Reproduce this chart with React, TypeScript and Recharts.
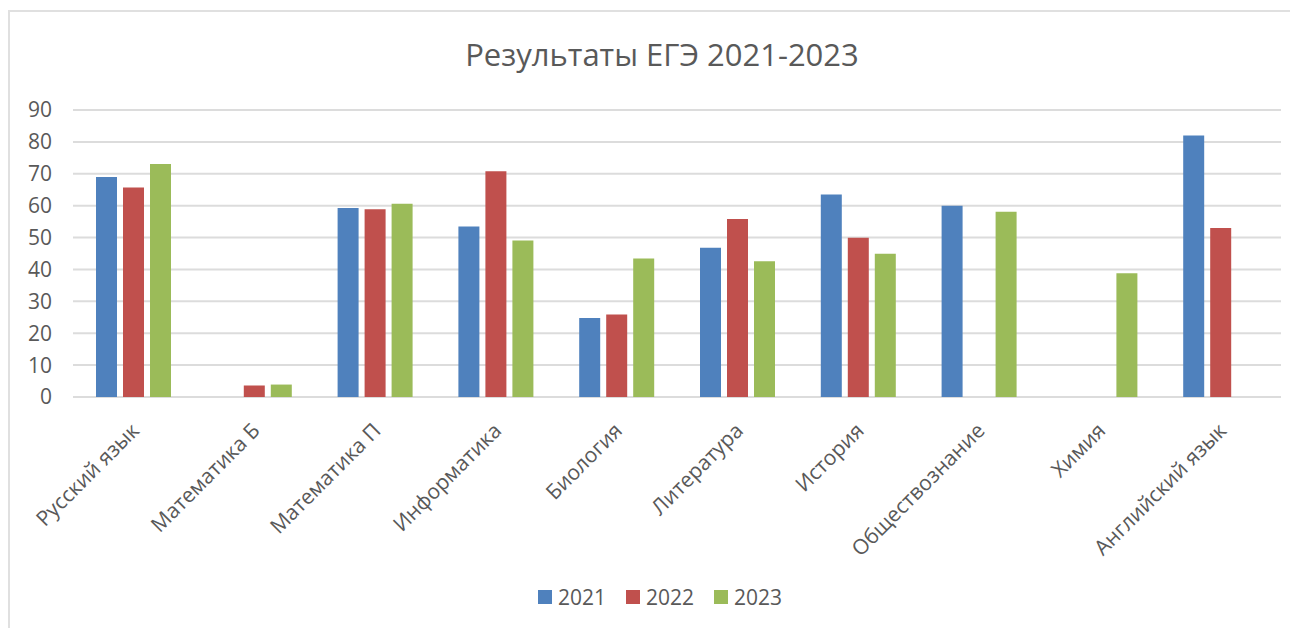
import { BarChart, Bar, XAxis, YAxis, CartesianGrid } from 'recharts'

// ЕГЭ results by subject
const subjects = [
  'Русский язык',
  'Математика Б',
  'Математика П',
  'Информатика',
  'Биология',
  'Литература',
  'История',
  'Обществознание',
  'Химия',
  'Английский язык',
]
const results2021 = [69, null, 59.3, 53.5, 24.8, 46.8, 63.5, 60, null, 82]
const results2022 = [65.7, 3.6, 58.9, 70.8, 25.9, 55.8, 49.9, null, null, 53]
const results2023 = [73.1, 3.9, 60.6, 49.1, 43.4, 42.6, 44.9, 58.1, 38.8, null]
const yTicks = [0, 10, 20, 30, 40, 50, 60, 70, 80, 90]

const years = [
  { key: 'y2021', label: '2021', color: '#4f81bd' },
  { key: 'y2022', label: '2022', color: '#c0504d' },
  { key: 'y2023', label: '2023', color: '#9bbb59' },
]

const data = subjects.map((name, i) => ({
  name,
  y2021: results2021[i],
  y2022: results2022[i],
  y2023: results2023[i],
}))

const FONT = '"Open Sans", "Noto Sans", sans-serif'
const TEXT = '#595959'

const SubjectTick = ({ x, y, payload }: any) => (
  <text
    x={x + 7}
    y={y + 27}
    transform={`rotate(-45, ${x + 7}, ${y + 27})`}
    textAnchor="end"
    fontSize={21}
    fill={TEXT}
    fontFamily={FONT}
  >
    {payload.value}
  </text>
)

export default function App() {
  return (
    <div
      style={{
        position: 'relative',
        marginTop: 2,
        width: 1300,
        height: 618,
        borderTop: '2px solid #e0e0e0',
        borderLeft: '2px solid #e0e0e0',
        boxSizing: 'border-box',
        fontFamily: FONT,
        background: '#fff',
      }}
    >
      <div
        style={{
          position: 'absolute',
          left: 0,
          width: 1304,
          top: 22,
          textAlign: 'center',
          fontSize: 31,
          color: TEXT,
          lineHeight: '40px',
        }}
      >
        Результаты ЕГЭ 2021-2023
      </div>
      <div style={{ position: 'absolute', left: -2, top: -2 }}>
        <BarChart
          width={1290}
          height={618}
          data={data}
          margin={{ top: 100, right: 17, left: 0, bottom: 0 }}
          barSize={21}
          barGap={6}
        >
          <CartesianGrid vertical={false} stroke="#dcdcdc" strokeWidth={2} />
          <XAxis
            dataKey="name"
            interval={0}
            height={231}
            axisLine={false}
            tickLine={false}
            tick={<SubjectTick />}
          />
          <YAxis
            width={65}
            domain={[0, 90]}
            ticks={yTicks}
            axisLine={false}
            tickLine={false}
            tickMargin={15}
            tick={{ fontSize: 21, fill: TEXT, fontFamily: FONT }}
          />
          {years.map((s) => (
            <Bar key={s.key} dataKey={s.key} fill={s.color} isAnimationActive={false} />
          ))}
        </BarChart>
      </div>
      <div
        style={{
          position: 'absolute',
          top: 571,
          left: 0,
          width: 1300,
          display: 'flex',
          justifyContent: 'center',
          gap: 20,
          fontSize: 21,
          color: TEXT,
        }}
      >
        {years.map((s) => (
          <div key={s.key} style={{ display: 'flex', alignItems: 'center', gap: 6 }}>
            <span style={{ width: 14, height: 14, background: s.color, display: 'inline-block' }} />
            <span>{s.label}</span>
          </div>
        ))}
      </div>
    </div>
  )
}
